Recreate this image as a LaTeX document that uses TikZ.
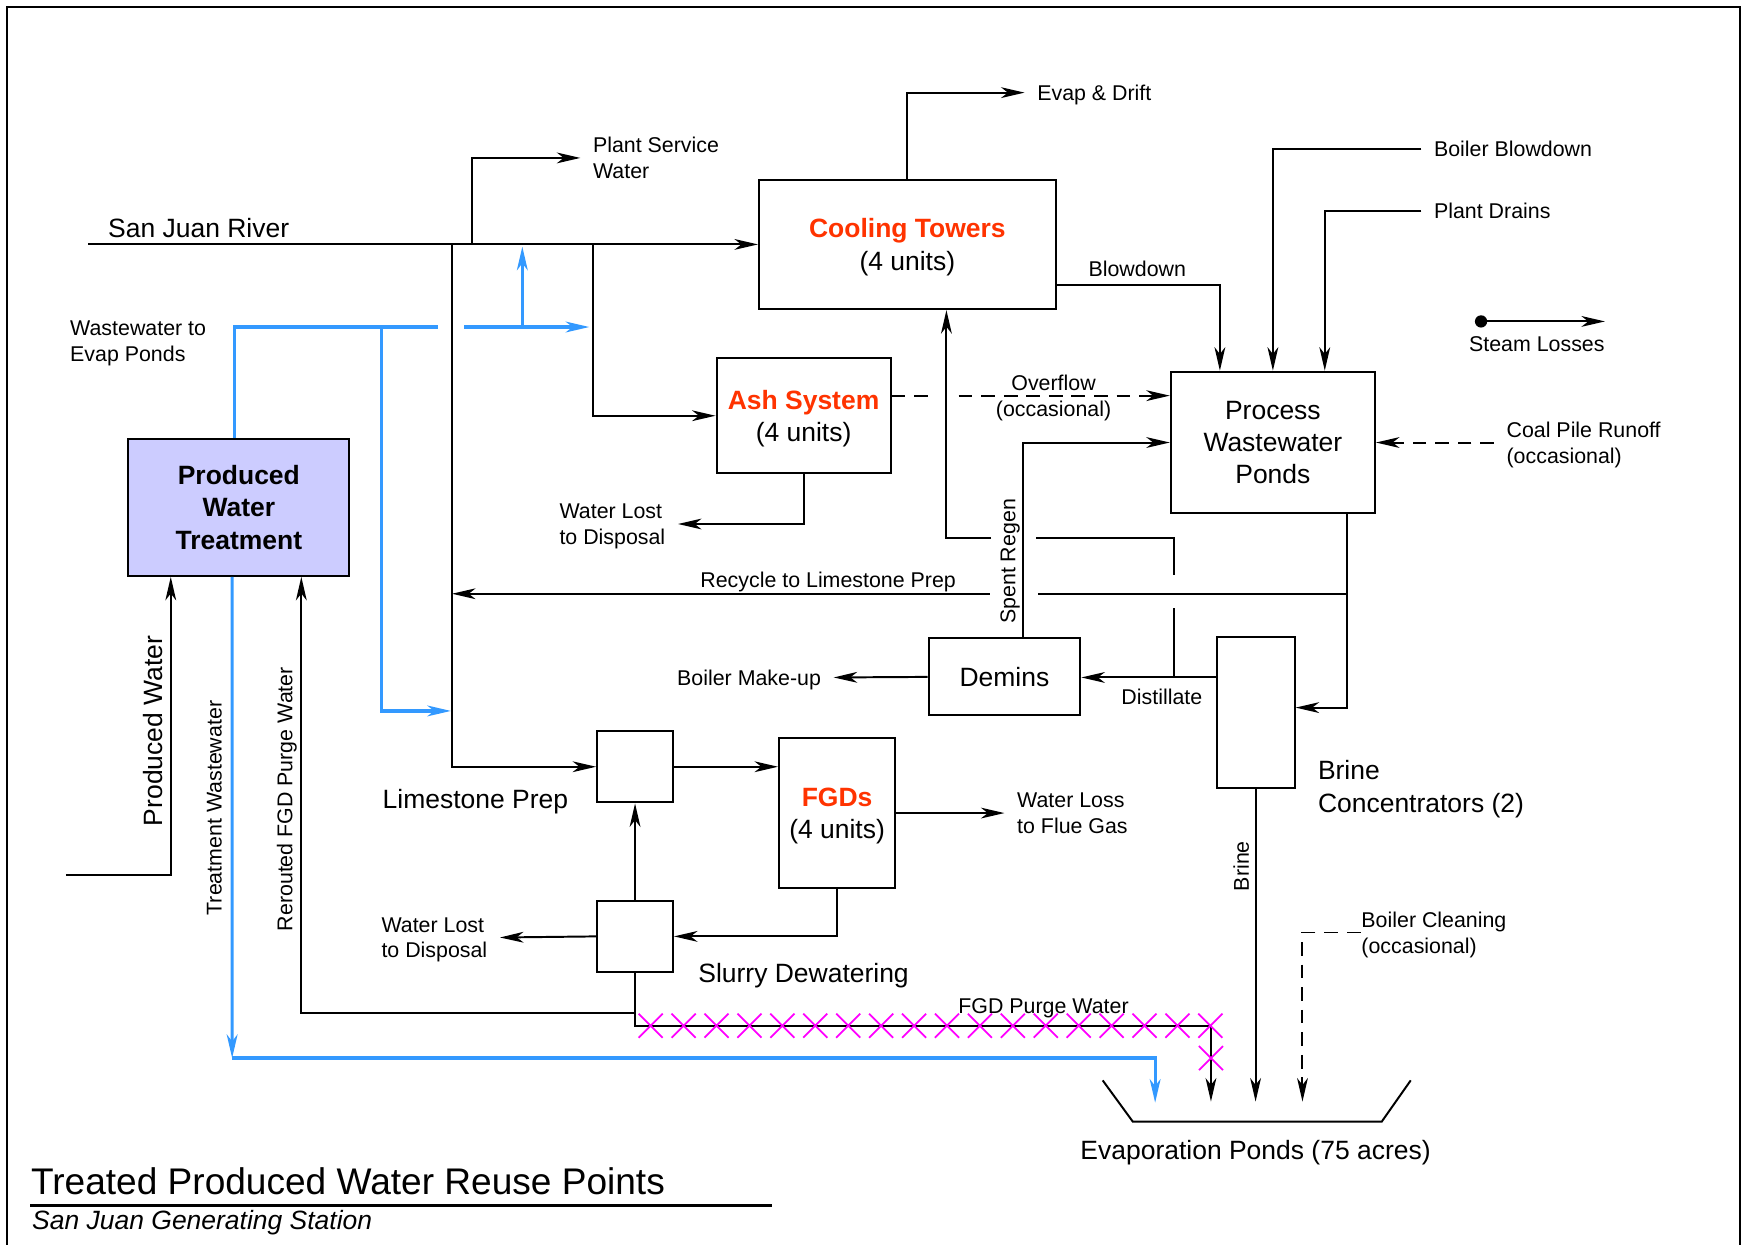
\documentclass[tikz,border=0pt]{standalone}
\usepackage{fontspec}
\setmainfont{Liberation Sans}
\usetikzlibrary{arrows.meta,shapes.misc}
\definecolor{water}{RGB}{51,153,255}
\definecolor{hot}{RGB}{255,51,0}
\definecolor{pwfill}{RGB}{204,204,255}
\definecolor{purge}{RGB}{255,0,255}

\begin{document}
\begin{tikzpicture}[x=0.02cm,y=-0.02cm,line width=1pt,>={Stealth[length=12pt,width=5.5pt,inset=3.5pt]},
        unit/.style={draw,inner sep=0pt,text depth=0pt,align=center,font=\fontsize{13.5}{16.5}\selectfont},
        lbl/.style={inner xsep=6pt,inner ysep=0pt,text depth=0pt,align=left,font=\fontsize{10.9}{13.1}\selectfont},
        big/.style={inner xsep=6pt,inner ysep=0pt,text depth=0pt,align=left,font=\fontsize{13.5}{16.5}\selectfont},
        tw/.style={draw=water,line width=1.6pt},
        occ/.style={dash pattern=on 7pt off 4.5pt},
        xmark/.style={cross out,draw=purge,line width=0.9pt,minimum size=0.4cm,inner sep=0pt}]
        \useasboundingbox (0,0) rectangle (1568,1115);
        \draw[line width=1.2pt] (6,6) rectangle (1559,1120);
        % process units
        \node[unit,minimum width=5.32cm,minimum height=2.32cm](ct)at(813, 219){\textcolor{hot}{\bfseries Cooling Towers}\\(4 units)};
        \node[unit,minimum width=3.12cm,minimum height=2.06cm](ash)at(720, 372.5){\textcolor{hot}{\bfseries Ash System}\\(4 units)};
        \node[unit,minimum width=3.66cm,minimum height=2.54cm](pwp)at(1140.5, 396.5){Process\\Wastewater\\Ponds};
        \node[unit,fill=pwfill,minimum width=3.96cm,minimum height=2.46cm,font=\fontsize{13.5}{16.5}\selectfont\bfseries](pwt)at(214, 454.5){Produced\\Water\\Treatment};
        \node[unit,minimum width=2.72cm,minimum height=1.38cm](demins)at(900, 606.5){Demins};
        \node[unit,minimum width=1.4cm,minimum height=2.7cm](bc)at(1125, 638.5){};
        \node[unit,minimum width=1.36cm,minimum height=1.28cm](lp)at(569, 687){};
        \node[unit,minimum width=2.08cm,minimum height=2.7cm](fgd)at(750, 728.5){\textcolor{hot}{\bfseries FGDs}\\(4 units)};
        \node[unit,minimum width=1.36cm,minimum height=1.28cm](sd)at(569, 839){};
        % labels
        \node[big,anchor=west](river)at(85.5, 204){San Juan River};
        \node[lbl,anchor=west](psw)at(520, 141.5){Plant Service\\Water};
        \node[lbl,anchor=west](evap)at(918, 83){Evap \& Drift};
        \node[lbl](bld)at(1019, 241){Blowdown};
        \node[lbl,anchor=west](bbd)at(1273.5, 133.5){Boiler Blowdown};
        \node[lbl,anchor=west](pdr)at(1273.5, 189){Plant Drains};
        \node[lbl](stl)at(1377, 308){Steam Losses};
        \node[lbl,anchor=west](cpr)at(1338.5, 396.5){Coal Pile Runoff\\(occasional)};
        \node[lbl,align=center](ovf)at(944, 354.5){Overflow\\(occasional)};
        \node[lbl,anchor=east](wl1)at(607.5, 469.5){Water Lost\\to Disposal};
        \node[lbl](rcl)at(742, 519.5){Recycle to Limestone Prep};
        \node[lbl,rotate=90](spr)at(903, 503){Spent Regen};
        \node[lbl,anchor=east](bmu)at(747, 607){Boiler Make-up};
        \node[lbl](dst)at(1041, 624){Distillate};
        \node[lbl,anchor=west](wlf)at(900, 728.5){Water Loss\\to Flue Gas};
        \node[lbl,anchor=east](wl2)at(448, 840){Water Lost\\to Disposal};
        \node[lbl](fgdp)at(935, 901){FGD Purge Water};
        \node[lbl,rotate=90](rtw)at(192, 724){Treatment Wastewater};
        \node[lbl,rotate=90](rfp)at(255, 716){Rerouted FGD Purge Water};
        \node[lbl,rotate=90](brn)at(1112, 776){Brine};
        \node[lbl,inner xsep=0pt,anchor=west](bcl)at(1219, 835.5){Boiler Cleaning\\(occasional)};
        \node[lbl,anchor=west](wwe)at(51.5, 305.5){Wastewater to\\Evap Ponds};
        \node[big](lsp)at(426, 716){Limestone Prep};
        \node[big](sdw)at(720, 872){Slurry Dewatering};
        \node[big,anchor=west](bcn)at(1169.5, 704.5){Brine\\Concentrators (2)};
        \node[big](evp)at(1125, 1030){Evaporation Ponds (75 acres)};
        \node[big,rotate=90](rpw)at(137, 655){Produced Water};
        \node[inner sep=0pt,text depth=0pt,anchor=west,font=\fontsize{18.9}{22}\selectfont](ttl)at(27, 1058){Treated Produced Water Reuse Points};
        \node[inner sep=0pt,text depth=0pt,anchor=west,font=\fontsize{13.5}{16.5}\selectfont\itshape](sub)at(28, 1093){San Juan Generating Station};
        % junctions and free ends
        \coordinate(riv)at(79, 219);
        \coordinate(j405)at(405, 219);
        \coordinate(j423)at(423, 219);
        \coordinate(j531)at(531, 219);
        \coordinate(ov1)at(838, 354.5);
        \coordinate(ov2)at(859, 354.5);
        \coordinate(dj)at(1052, 607);
        \coordinate(d1)at(1052, 545);
        \coordinate(d2)at(1052, 515);
        \coordinate(d3)at(928, 482);
        \coordinate(d4)at(888, 482);
        \coordinate(rj)at(1207, 532);
        \coordinate(rg1)at(930, 532);
        \coordinate(rg2)at(887, 532);
        \coordinate(rend)at(405, 532);
        \coordinate(brd)at(1125, 987);
        \coordinate(bce)at(1167, 987);
        \coordinate(sj)at(569, 908);
        \coordinate(pg1)at(1085, 919);
        \coordinate(pg2)at(1085, 987);
        \coordinate(pw0)at(59, 784);
        \coordinate(bl1)at(392, 293);
        \coordinate(bl2)at(416, 293);
        \coordinate(bl3)at(528, 293);
        \coordinate(bl4)at(468, 293);
        \coordinate(bl5)at(468, 221);
        \coordinate(bl6)at(342, 293);
        \coordinate(bl7)at(404, 637);
        \coordinate(bl8)at(208, 948);
        \coordinate(bl9)at(1035, 988);
        \coordinate(sl0)at(1327, 288);
        \coordinate(sl1)at(1438, 288);
        % river water
        \draw[->] (riv) -- (ct);
        \draw[->] (j423) |- (psw.west);
        \draw[->] (j405) |- (lp);
        \draw[->] (j531) |- (ash);
        \draw[->] (ct.north) |- (evap.west);
        \draw[->] ([yshift=-0.72cm]ct.east) -| ([xshift=-0.95cm]pwp.north);
        \draw[->] (bbd.west) -| (pwp.north);
        \draw[->] (pdr.west) -| ([xshift=0.93cm]pwp.north);
        \draw[occ,->] (cpr.west) -- (pwp.east);
        \draw[occ] (ash.east |- ov1) -- (ov1);
        \draw[occ,->] (ov2) -- (ov2 -| pwp.west);
        \draw[->] (ash.south) |- (wl1.east);
        % demins and brine concentrators
        \draw[->] ([xshift=0.34cm]demins.north) |- (pwp.west);
        \draw[->] (demins.west) -- (bmu.east);
        \draw[->] (bc.west |- dj) -- (demins.east |- dj);
        \draw (dj) -- (d1);
        \draw (d2) |- (d3);
        \draw[->] (d4) -| ([xshift=0.7cm]ct.south);
        \draw[->] ([xshift=1.33cm]pwp.south) |- ([yshift=0.09cm]bc.east);
        \draw (rj) -- (rg1);
        \draw[->] (rg2) -- (rend);
        \draw[->] (bc.south) -- (brd);
        \draw[occ,->] (bcl.west) -| (bce);
        % scrubbers
        \draw[->] (lp.east) -- (lp.east -| fgd.west);
        \draw[->] (fgd.east) -- (wlf.west);
        \draw[->] (fgd.south) |- (sd.east);
        \draw[->] (sd.west) -- (wl2.east);
        \draw[->] (sd) -- (lp);
        \draw (sd.south) -- (sj);
        \draw[->] (sj) -| ([xshift=1.12cm]pwt.south);
        \draw[->] (sj) |- (pg1) -- (pg2);
        \draw[->] (pw0) -| ([xshift=-1.22cm]pwt.south);
        \foreach \i in {0,...,17}
            \node[xmark](pm\i)at(583+29.5*\i, 919){};
        \node[xmark](pm18)at(1085, 948){};
        % treated produced water
        \draw[tw] ([xshift=-0.08cm]pwt.north) |- (bl1);
        \draw[tw,->] (bl2) -- (bl3);
        \draw[tw,->] (bl4) -- (bl5);
        \draw[tw,->] (bl6) |- (bl7);
        \draw[tw,->] ([xshift=-0.12cm]pwt.south) -- (bl8);
        \draw[tw,->] (bl8) -| (bl9);
        % legend, ponds, title
        \draw[->] (sl0) -- (sl1);
        \fill (sl0) circle[radius=0.11cm];
        \draw (988, 968) -- (1015, 1005) -- (1238, 1005) -- (1264, 968);
        \draw[line width=1.2pt] (27, 1080) -- (692, 1080);
\end{tikzpicture}
\end{document}
